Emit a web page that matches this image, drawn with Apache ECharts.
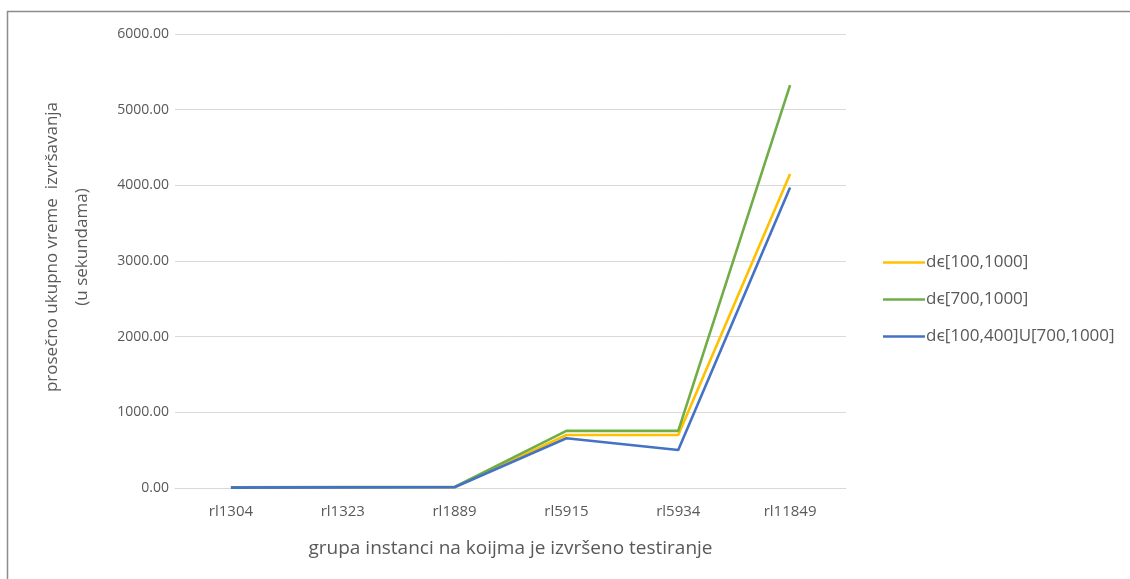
<!DOCTYPE html>
<html>
<head>
<meta charset="utf-8">
<script src="https://cdn.jsdelivr.net/npm/echarts@6/dist/echarts.min.js"></script>
<style>
html,body{margin:0;padding:0;background:#fff;}
#chart{width:1130px;height:579px;}
</style>
</head>
<body>
<div id="chart"></div>
<script>
const categories = ['rl1304', 'rl1323', 'rl1889', 'rl5915', 'rl5934', 'rl11849'];
const seriesNames = ['dϵ[100,1000]', 'dϵ[700,1000]', 'dϵ[100,400]U[700,1000]'];
const yellowValues = [8, 10, 12, 700, 700, 4150];
const greenValues = [10, 12, 14, 755, 755, 5325];
const blueValues = [5, 8, 10, 657, 502, 3970];
const yTicks = [0, 1000, 2000, 3000, 4000, 5000, 6000];
const colors = ['#FFC000', '#70AD47', '#4472C4'];

const font = '"Open Sans", "Noto Sans", sans-serif';
const chart = echarts.init(document.getElementById('chart'));
const dataSets = [yellowValues, greenValues, blueValues];

chart.setOption({
  animation: false,
  backgroundColor: '#fff',
  graphic: [{
    type: 'rect',
    shape: { x: 7.5, y: 11.5, width: 1200, height: 700 },
    style: { fill: 'none', stroke: '#8c8c8c', lineWidth: 1.5 },
    silent: true,
    z: -10
  }],
  grid: { left: 175, right: 284, top: 34, bottom: 91, containLabel: false, outerBoundsMode: 'none' },
  legend: {
    orient: 'vertical',
    left: 878,
    top: 249,
    itemWidth: 42,
    itemHeight: 16,
    itemGap: 20,
    icon: 'path://M0,7 L42,7 L42,9.5 L0,9.5 Z',
    data: seriesNames,
    textStyle: { color: '#595959', fontSize: 17, fontFamily: font, padding: [0, 0, 0, -4] }
  },
  xAxis: {
    type: 'category',
    data: categories,
    boundaryGap: true,
    name: 'grupa instanci na koijma je izvršeno testiranje',
    nameLocation: 'middle',
    nameGap: 51,
    nameTextStyle: { color: '#595959', fontSize: 19, fontFamily: font },
    axisLine: { show: true, lineStyle: { color: '#d9d9d9', width: 1 } },
    axisTick: { show: false },
    axisLabel: { color: '#595959', fontSize: 15, fontFamily: font, margin: 16 }
  },
  yAxis: {
    type: 'value',
    min: yTicks[0],
    max: yTicks[yTicks.length - 1],
    interval: 1000,
    name: 'prosečno ukupno vreme  izvršavanja\n(u sekundama)',
    nameLocation: 'middle',
    nameGap: 78,
    nameRotate: 90,
    nameTextStyle: { color: '#595959', fontSize: 17, fontFamily: font, lineHeight: 30, padding: [0, 0, 0, 28] },
    axisLine: { show: false },
    axisTick: { show: false },
    splitLine: { lineStyle: { color: '#d9d9d9', width: 1 } },
    axisLabel: {
      color: '#595959', fontSize: 14, fontFamily: font, margin: 6,
      formatter: v => v.toFixed(2)
    }
  },
  series: seriesNames.map((n, i) => ({
    name: n,
    type: 'line',
    data: dataSets[i],
    symbol: 'none',
    color: colors[i],
    lineStyle: { color: colors[i], width: 2.6 },
    z: 2 + i
  }))
});
</script>
</body>
</html>
